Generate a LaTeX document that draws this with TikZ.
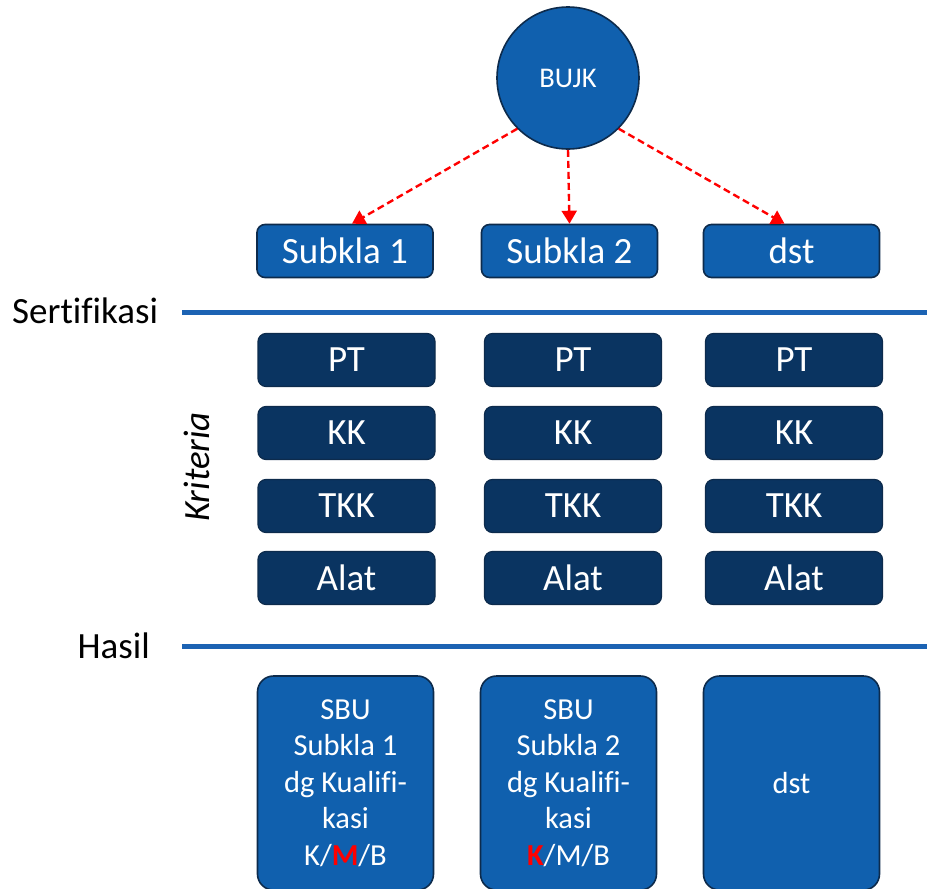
\documentclass[tikz,border=0pt]{standalone}
\usepackage{fontspec}
\setmainfont{Carlito}[Ligatures=NoCommon]
\usetikzlibrary{arrows.meta}
\definecolor{medblue}{HTML}{1060AE}
\definecolor{navybox}{HTML}{0A3461}
\definecolor{edgeblue}{HTML}{0D2B4C}
\definecolor{lineblue}{HTML}{1C63B3}
\definecolor{arrred}{HTML}{FF0000}
\tikzset{
  topbox/.style={draw=edgeblue, line width=1.6pt, fill=medblue, rounded corners=8pt,
    minimum width=176pt, minimum height=53pt, text=white, inner sep=0pt,
    font=\fontsize{37}{42}\selectfont},
  critbox/.style={draw=edgeblue, line width=1.2pt, fill=navybox, rounded corners=8pt,
    minimum width=177pt, minimum height=53pt, text=white, inner sep=0pt,
    font=\fontsize{37}{42}\selectfont},
  resbox/.style={draw=edgeblue, line width=1.6pt, fill=medblue, rounded corners=16pt,
    minimum width=176pt, minimum height=214pt, text=white, inner sep=0pt, align=center,
    font=\fontsize{30.5}{36.5}\selectfont},
  sectlabel/.style={font=\fontsize{37}{42}\selectfont, text=black, inner sep=0pt},
  sectline/.style={draw=lineblue, line width=5pt},
  linkarrow/.style={draw=arrred, line width=2.4pt, dash pattern=on 7pt off 4pt,
    -{Triangle[width=15pt,length=13pt,fill=arrred]}}
}
\begin{document}
\begin{tikzpicture}[x=1pt,y=-1pt]
\useasboundingbox (0,0) rectangle (927,889);
% circle
\node[circle, draw=edgeblue, line width=1.6pt, fill=medblue, minimum size=142pt, inner sep=0pt,
  text=white, font=\fontsize{28.5}{33}\selectfont] (bujk) at (568,78) {BUJK};
% top boxes
\node[topbox] (s1) at (345,251) {Subkla 1};
\node[topbox] (s2) at (569.5,251) {Subkla 2};
\node[topbox] (s3) at (791.5,251) {dst};
% arrows
\draw[linkarrow] (bujk.south west) -- ([xshift=7pt]s1.north);
\draw[linkarrow] (bujk.south) -- (s2.north);
\draw[linkarrow] (bujk.south east) -- ([xshift=-7pt]s3.north);
% section lines
\coordinate (l1a) at (182,312);
\coordinate (l1b) at (927,312);
\coordinate (l2a) at (182,646);
\coordinate (l2b) at (927,646);
\draw[sectline] (l1a) -- (l1b);
\draw[sectline] (l2a) -- (l2b);
\node[sectlabel, anchor=west] (sert) at (12,311) {Sertifikasi};
\node[sectlabel, anchor=east] (hasil) at (150,646) {Hasil};
\node[sectlabel, rotate=90, font=\fontsize{37}{42}\selectfont\itshape] (krit) at (197,467) {Kriteria};
% criteria boxes
\node[critbox] (pt1) at (346.5,360) {PT};
\node[critbox] (pt2) at (573,360) {PT};
\node[critbox] (pt3) at (794,360) {PT};
\node[critbox] (kk1) at (346.5,433) {KK};
\node[critbox] (kk2) at (573,433) {KK};
\node[critbox] (kk3) at (794,433) {KK};
\node[critbox] (tkk1) at (346.5,506) {TKK};
\node[critbox] (tkk2) at (573,506) {TKK};
\node[critbox] (tkk3) at (794,506) {TKK};
\node[critbox] (alat1) at (346.5,578) {Alat};
\node[critbox] (alat2) at (573,578) {Alat};
\node[critbox] (alat3) at (794,578) {Alat};
% result boxes
\node[resbox] (r1) at (345.5,783) {SBU\\Subkla 1\\dg Kualifi-\\kasi\\K/\textcolor{arrred}{\textbf{M}}/B};
\node[resbox] (r2) at (568.5,783) {SBU\\Subkla 2\\dg Kualifi-\\kasi\\\textcolor{arrred}{\textbf{K}}/M/B};
\node[resbox] (r3) at (791.5,783) {dst};
\end{tikzpicture}
\end{document}
